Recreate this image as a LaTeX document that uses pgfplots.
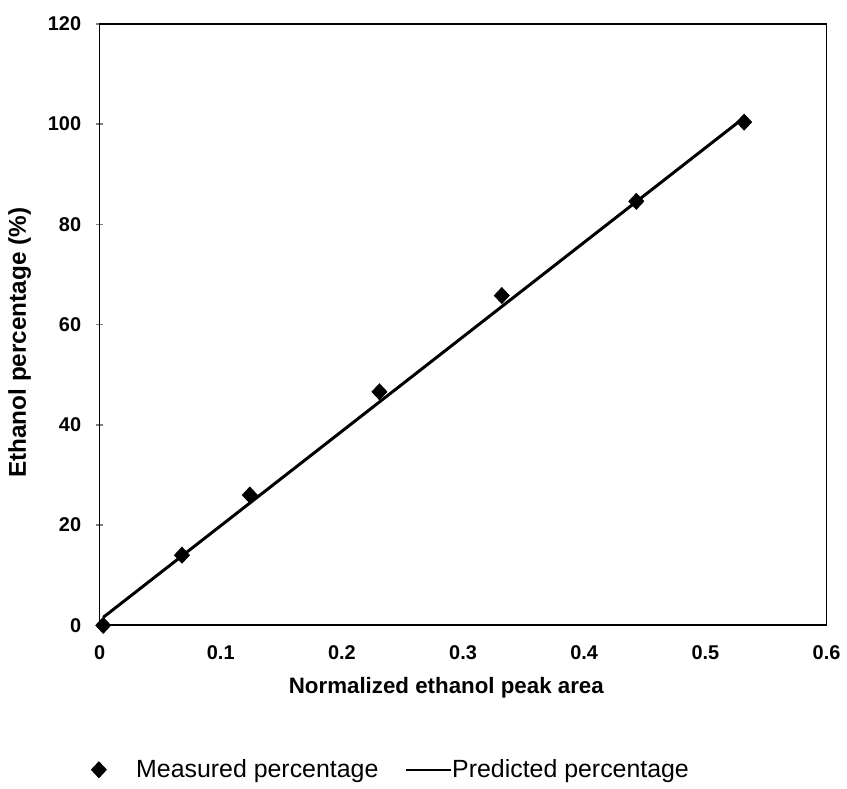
\documentclass[border=0pt]{standalone}
\usepackage{pgfplots}
\pgfplotsset{compat=1.18}
\usepackage{fontspec}
\setmainfont{Liberation Sans}

\begin{document}
\begin{tikzpicture}
\begin{axis}[
    scale only axis,
    width=365pt,
    height=302pt,
    xmin=0, xmax=0.6,
    ymin=0, ymax=120,
    xtick={0,0.1,...,0.6},
    ytick={0,20,...,120},
    xticklabels={0,0.1,0.2,0.3,0.4,0.5,0.6},
    axis line style={line width=0.9pt},
    xtick style={draw=none},
    ytick pos=left,
    ytick style={line width=0.8pt},
    major tick length=3.5pt,
    tick align=center,
    /pgf/number format/assume math mode=true,
    tick label style={font=\bfseries\fontsize{10}{12}\selectfont},
    xticklabel style={yshift=-5pt},
    yticklabel style={xshift=-4pt},
    xlabel={Normalized ethanol peak area},
    ylabel={Ethanol percentage (\%)},
    xlabel style={font=\bfseries\fontsize{11.2}{13}\selectfont,
        at={(axis description cs:0.477,-0.103)}, anchor=center},
    ylabel style={font=\bfseries\fontsize{12.2}{14}\selectfont,
        at={(axis description cs:-0.11,0.47)}, anchor=center},
    reverse legend,
    legend columns=-1,
    legend style={draw=none, at={(axis description cs:-0.02,-0.24)}, anchor=west,
        font=\fontsize{12.5}{14}\selectfont},
]
\addplot[black, line width=1.5pt, no marks,
    legend image code/.code={\draw[line width=0.8pt] (0cm,0cm) -- (0.8cm,0cm);}]
    coordinates {(0.003,1.6) (0.532,101.3)};
\addlegendentry{\kern-2pt Predicted percentage}
\addplot[only marks, mark=diamond*, mark size=4pt, black, mark options={xscale=1.25}]
    coordinates {
    (0.003,0) (0.068,14.0) (0.124,26.0) (0.231,46.6)
    (0.332,65.8) (0.443,84.6) (0.532,100.4)};
\addlegendentry{\kern13pt Measured percentage\kern11.5pt}
\end{axis}
\path (current axis.south west) ++(-50pt,-79pt) rectangle ++(423.5pt,393pt);
\end{tikzpicture}
\end{document}
